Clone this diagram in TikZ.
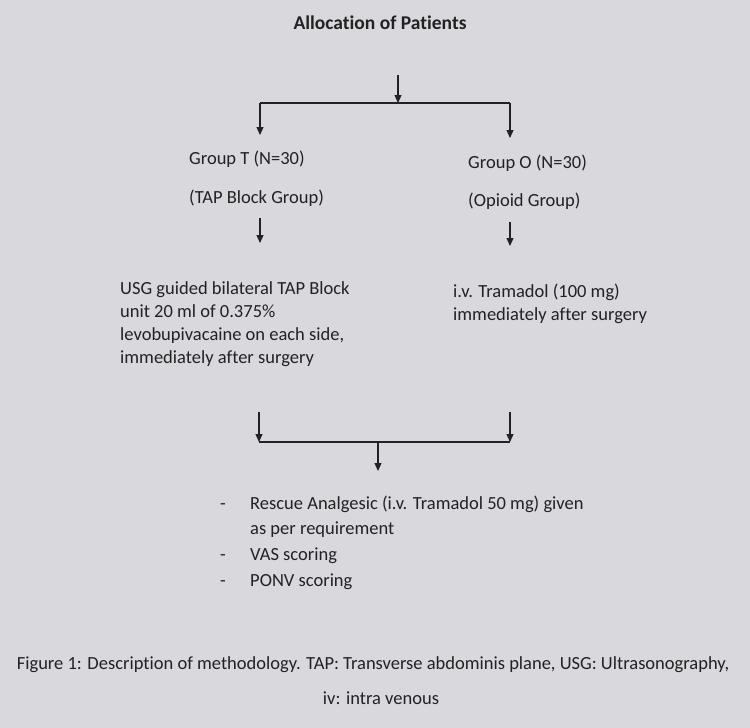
\documentclass[tikz,border=0pt]{standalone}
\usepackage{fontspec}
\setmainfont{Carlito}[RawFeature=-liga]
\usetikzlibrary{arrows.meta}
\definecolor{paper}{RGB}{216,216,221}
\definecolor{ink}{RGB}{34,34,36}
\tikzset{
  txt/.style={inner sep=0pt, text=ink, font=\fontsize{18.5}{23}\selectfont, align=left},
  arr/.style={draw=ink, line width=1.1pt, -{Triangle[width=7pt,length=8pt]}},
  ln/.style={draw=ink, line width=1.1pt},
}
\begin{document}
\begin{tikzpicture}[x=1pt,y=-1pt]
\fill[paper] (0,0) rectangle (750,728);
\useasboundingbox (0,0) rectangle (750,728);

\node[txt, anchor=base, font=\bfseries\fontsize{19.5}{23}\selectfont] (title) at (380,30) {Allocation of Patients};

\coordinate (top) at (398,75);
\coordinate (bar1) at (398,103);
\coordinate (bar1L) at (260,103);
\coordinate (bar1R) at (510,103);
\draw[arr] (top) -- (bar1);
\draw[ln] (bar1L) -- (bar1R);

\node[txt, anchor=base west] (gT) at (189,164) {Group T (N=30)};
\node[txt, anchor=base west] (gT2) at (189,203) {(TAP Block Group)};
\node[txt, anchor=base west] (gO) at (468,168) {Group O (N=30)};
\node[txt, anchor=base west] (gO2) at (468,206) {(Opioid Group)};

\draw[arr] (bar1L) -- (260,135);
\draw[arr] (bar1R) -- (510,138);

\coordinate (tL) at (260,218);
\coordinate (tR) at (510,222);
\draw[arr] (tL) -- (260,243);
\draw[arr] (tR) -- (510,246);

\node[txt, anchor=base west] (bT) at (120,363) {USG guided bilateral TAP Block\\unit 20 ml of 0.375\%\\levobupivacaine on each side,\\immediately after surgery};
\node[txt, anchor=base west] (bO) at (453,320) {i.v. Tramadol (100 mg)\\immediately after surgery};

\coordinate (uL) at (259,412);
\coordinate (uR) at (510,412);
\coordinate (bar2L) at (259,442);
\coordinate (bar2R) at (510,442);
\coordinate (bar2M) at (378,442);
\draw[arr] (uL) -- (bar2L);
\draw[arr] (uR) -- (bar2R);
\draw[ln] (bar2L) -- (bar2R);
\draw[arr] (bar2M) -- (378,471);

\node[txt, anchor=base west, font=\fontsize{18.5}{25.6}\selectfont] (list) at (250,586) {Rescue Analgesic (i.v. Tramadol 50 mg) given\\as per requirement\\VAS scoring\\PONV scoring};
\node[txt, anchor=base] (d1) at (223,509) {-};
\node[txt, anchor=base] (d2) at (223,560) {-};
\node[txt, anchor=base] (d3) at (223,586) {-};

\node[txt, anchor=base] (cap1) at (373,669) {Figure 1: Description of methodology. TAP: Transverse abdominis plane, USG: Ultrasonography,};
\node[txt, anchor=base] (cap2) at (381,704) {iv: intra venous};
\end{tikzpicture}
\end{document}
